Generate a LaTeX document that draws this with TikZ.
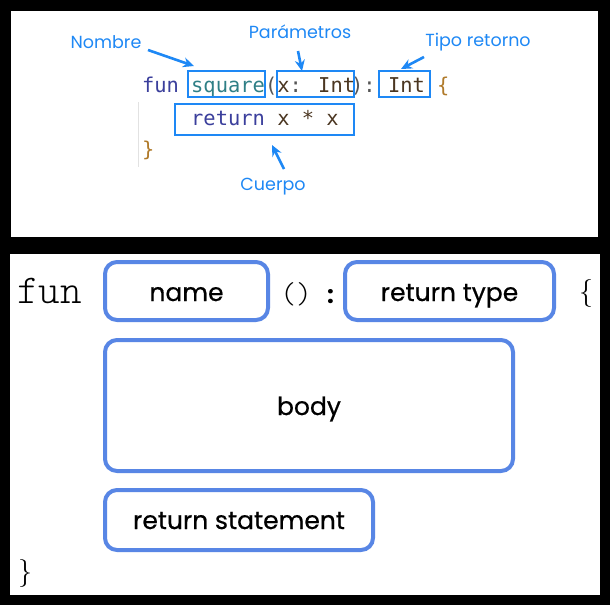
\documentclass[tikz,border=0pt]{standalone}
\usepackage{fontspec}
\newfontfamily\codefont{DejaVu Sans Mono}
\newfontfamily\labfont{Poppins}
\newfontfamily\labfontb{Poppins}[FakeBold=0.6]
\newfontfamily\thinmono{Latin Modern Mono Light}
\usetikzlibrary{arrows.meta}
\definecolor{topblue}{HTML}{1E88F5}
\definecolor{boxblue}{HTML}{5886E5}
\definecolor{cfun}{HTML}{3B3F9C}
\definecolor{cname}{HTML}{2F7F86}
\definecolor{cbrown}{HTML}{4B3621}
\definecolor{cpunct}{HTML}{555555}
\definecolor{cbrace}{HTML}{B07A2A}
\definecolor{cgray}{HTML}{E2E2E2}
\begin{document}
\begin{tikzpicture}[x=1pt,y=-1pt,
  code/.style={anchor=base west, inner sep=0pt, font=\codefont\fontsize{20.4}{20.4}\selectfont},
  hbox/.style={draw=topblue, line width=2.5pt, inner sep=0pt},
  toplab/.style={inner sep=0pt, text=topblue, font=\labfont\fontsize{17.5}{17.5}\selectfont},
  arr/.style={draw=topblue, line width=2.6pt, -{Stealth[length=11pt,width=10pt]}},
  bbox/.style={draw=boxblue, line width=4pt, rounded corners=12pt, inner sep=0pt},
  blab/.style={anchor=base, inner sep=0pt, text=black, font=\labfontb\fontsize{25}{25}\selectfont}]
\useasboundingbox (0,0) rectangle (610,605);
\fill[black] (0,0) rectangle (610,605);
\fill[white] (11,11) rectangle (598,237);
\fill[white] (10,254) rectangle (600,595);

% ---------- top panel ----------
\draw[cgray, line width=1pt] (138,102) -- (138,167);
\node[code, text=cfun]   (kfun)   at (141.8,92) {fun};
\node[code, text=cname]  (ksq)    at (191.0,92) {square};
\node[code, text=cpunct] (kpo)    at (264.8,92) {(};
\node[code, text=cbrown] (kpar)   at (277.1,92) {x\textcolor{cpunct}{:} Int};
\node[code, text=cpunct] (kpc)    at (350.9,92) {)};
\node[code, text=cpunct] (kcol)   at (363.2,92) {:};
\node[code, text=cbrown] (kint)   at (387.8,92) {Int};
\node[code, text=cbrace] (kob)    at (437.0,92) {\{};
\node[code, text=cfun]   (kret)   at (191.0,125) {return};
\node[code, text=cbrown] (kexp)   at (277.1,125) {x * x};
\node[code, text=cbrace] (kcb)    at (141.8,156) {\}};

\node[hbox, minimum width=77pt, minimum height=26pt] (bname) at (226.5,84) {};
\node[hbox, minimum width=77pt, minimum height=26pt] (bpar)  at (315.5,84) {};
\node[hbox, minimum width=51pt, minimum height=26pt] (bret)  at (404.5,84) {};
\node[hbox, minimum width=179pt, minimum height=31pt] (bbody) at (264.5,119.5) {};

\node[toplab] (lnom) at (106,42) {Nombre};
\node[toplab] (lpar) at (300,32) {Parámetros};
\node[toplab] (ltip) at (478,42) {Tipo retorno};
\node[toplab] (lcue) at (273,187) {Cuerpo};

\coordinate (a1s) at (148,50);  \coordinate (a1e) at (194,66);
\coordinate (a2s) at (298,51);  \coordinate (a2e) at (302,71);
\coordinate (a3s) at (424,57);  \coordinate (a3e) at (401,69);
\coordinate (a4s) at (284,169); \coordinate (a4e) at (272,145);
\draw[arr] (a1s) -- (a1e);
\draw[arr] (a2s) -- (a2e);
\draw[arr] (a3s) -- (a3e);
\draw[arr] (a4s) -- (a4e);

% ---------- bottom panel ----------
\node[anchor=base west, inner sep=0pt, font=\thinmono\fontsize{41}{41}\selectfont] (bfun) at (17,303) {fun};
\node[bbox, minimum width=163pt, minimum height=58pt] (name)  at (186.5,291) {};
\node[blab] (tname) at (186.5,301) {name};
\node[anchor=base, inner sep=0pt, font=\thinmono\fontsize{30}{30}\selectfont] (paren) at (296,303) {()};
\node[anchor=base, inner sep=0pt, font=\labfont\bfseries\fontsize{24}{24}\selectfont] (colon) at (330.5,303) {:};
\node[bbox, minimum width=209pt, minimum height=58pt] (rtype) at (449.5,291) {};
\node[blab] (trtype) at (449.5,301) {return type};
\node[inner sep=0pt, font=\fontsize{28}{28}\selectfont] (obr) at (586,293) {\{};
\node[bbox, minimum width=408pt, minimum height=131pt] (body) at (309,405.5) {};
\node[blab] (tbody) at (309,415) {body};
\node[bbox, minimum width=268pt, minimum height=60pt] (rstmt) at (239,520) {};
\node[blab] (trstmt) at (239,529) {return statement};
\node[inner sep=0pt, font=\fontsize{28}{28}\selectfont] (cbr) at (25,573) {\}};
\end{tikzpicture}
\end{document}
